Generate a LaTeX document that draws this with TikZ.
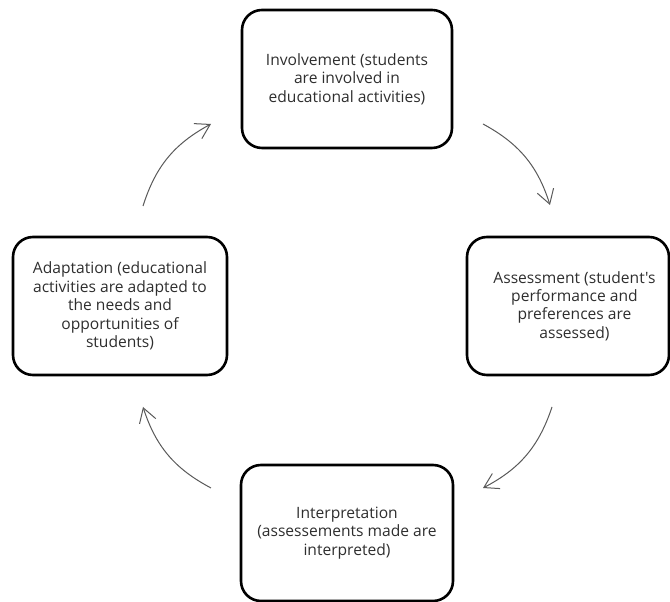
\documentclass[tikz,border=0pt]{standalone}
\usepackage{fontspec}
\setmainfont{Open Sans}[Ligatures=TeXOff]
\usetikzlibrary{arrows.meta}
\begin{document}
\begin{tikzpicture}[x=1pt,y=1pt,
  box/.style={draw=black, line width=2.6pt, rounded corners=20pt, inner sep=0pt},
  lbl/.style={align=center, font=\fontsize{15.6}{18.4}\selectfont, text=black!82, inner sep=0pt},
  cyc/.style={draw=black!65, line width=1pt, -{Straight Barb[length=14pt,width=17pt,line width=1pt]}, bend left=22}]
\useasboundingbox (0,0) rectangle (670,602);
% boxes
\node[box, minimum width=210pt, minimum height=138pt] (inv) at (347,523) {};
\node[box, minimum width=202pt, minimum height=138pt] (ass) at (568,296) {};
\node[box, minimum width=212pt, minimum height=136pt] (int) at (347,69) {};
\node[box, minimum width=214pt, minimum height=138pt] (ada) at (120,296) {};
% texts
\node[lbl] (invT) at (inv.center) {Involvement (students\\are involved in\\educational activities)};
\node[lbl] (assT) at ([xshift=6.5pt]ass.center) {Assessment (student's\\performance and\\preferences are\\assessed)};
\node[lbl] (intT) at (int.center) {Interpretation\\(assessements made are\\interpreted)};
\node[lbl] (adaT) at (ada.center) {Adaptation (educational\\activities are adapted to\\the needs and\\opportunities of\\students)};
% arrow ends
\coordinate (a1s) at (483,478); \coordinate (a1e) at (550,397);
\coordinate (a2s) at (552,195); \coordinate (a2e) at (483,114);
\coordinate (a3s) at (211,114); \coordinate (a3e) at (143,195);
\coordinate (a4s) at (143,396); \coordinate (a4e) at (211,478);
\draw[cyc] (a1s) to (a1e);
\draw[cyc] (a2s) to (a2e);
\draw[cyc] (a3s) to (a3e);
\draw[cyc] (a4s) to (a4e);
\end{tikzpicture}
\end{document}
